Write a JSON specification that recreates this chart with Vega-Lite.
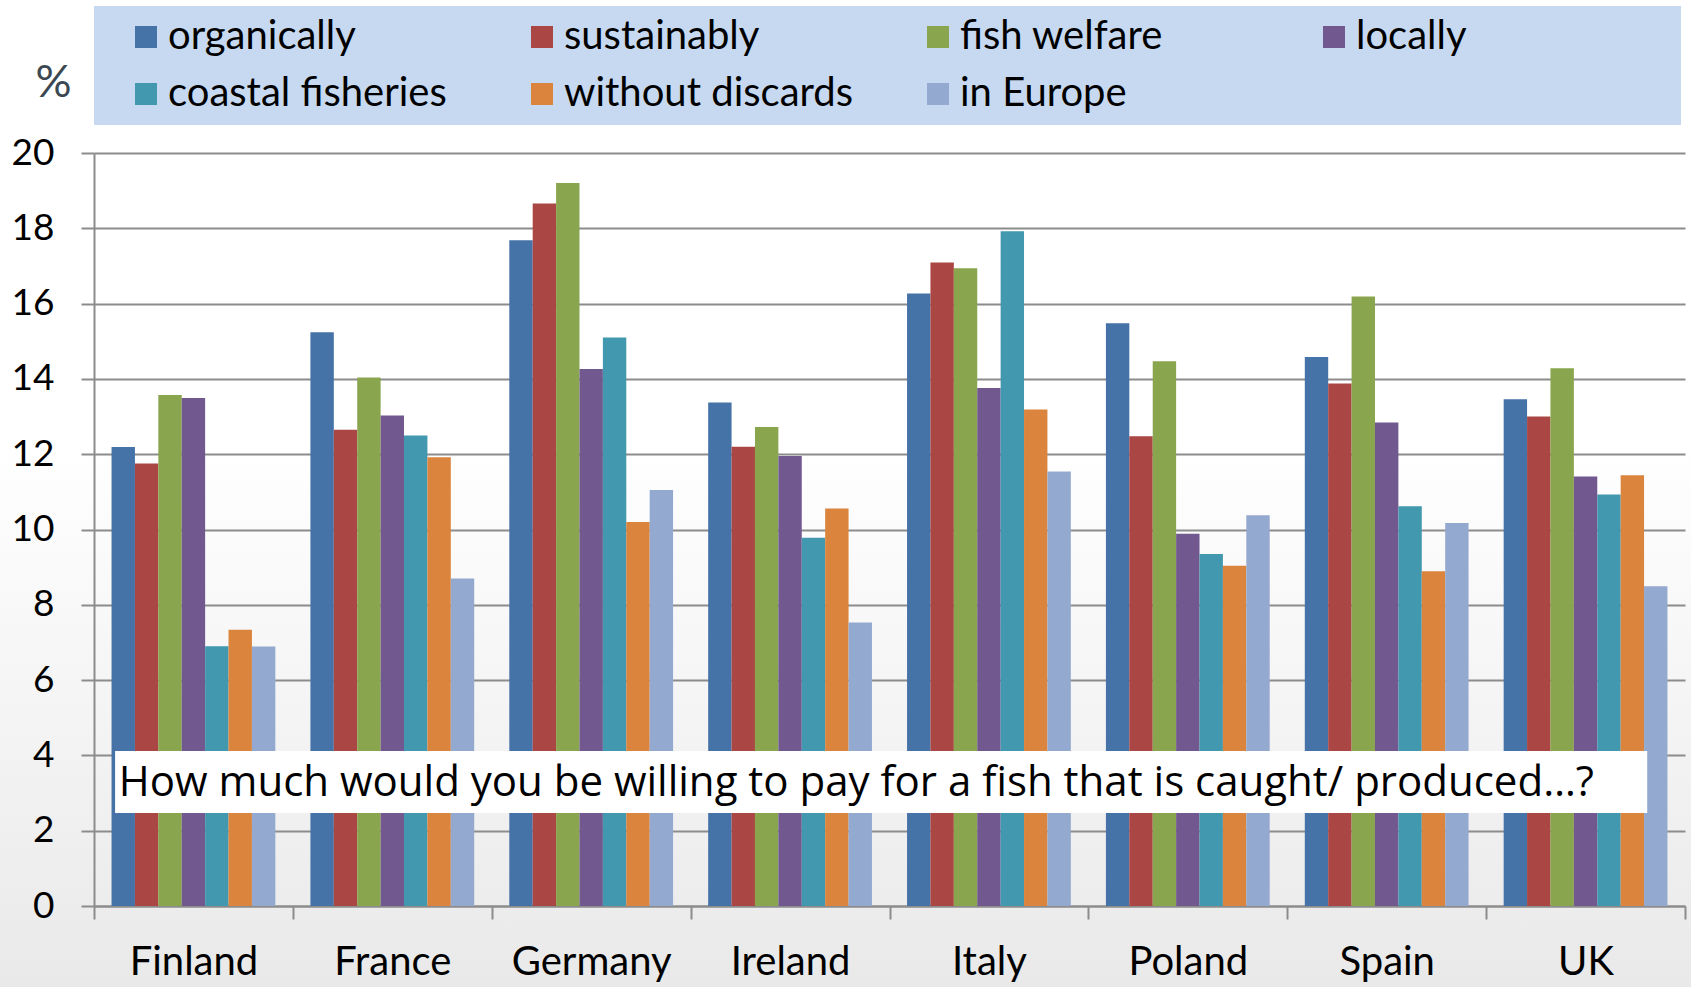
{
  "$schema": "https://vega.github.io/schema/vega-lite/v6.json",
  "width": 1691,
  "height": 987,
  "autosize": {"type": "none"},
  "padding": 0,
  "background": "white",
  "config": {
    "font": "Lato",
    "view": {
      "stroke": null,
      "fill": {
        "gradient": "linear",
        "x1": 0, "y1": 0, "x2": 0, "y2": 1,
        "stops": [
          {"offset": 0, "color": "#ffffff"},
          {"offset": 0.45, "color": "#ffffff"},
          {"offset": 1, "color": "#e9e9e9"}
        ]
      }
    }
  },
  "layer": [
    {
      "data": {
        "values": [
          {"country": "Finland", "series": "organically", "value": 12.19},
          {"country": "Finland", "series": "sustainably", "value": 11.75},
          {"country": "Finland", "series": "fish welfare", "value": 13.57},
          {"country": "Finland", "series": "locally", "value": 13.49},
          {"country": "Finland", "series": "coastal fisheries", "value": 6.9},
          {"country": "Finland", "series": "without discards", "value": 7.34},
          {"country": "Finland", "series": "in Europe", "value": 6.89},
          {"country": "France", "series": "organically", "value": 15.24},
          {"country": "France", "series": "sustainably", "value": 12.65},
          {"country": "France", "series": "fish welfare", "value": 14.04},
          {"country": "France", "series": "locally", "value": 13.03},
          {"country": "France", "series": "coastal fisheries", "value": 12.5},
          {"country": "France", "series": "without discards", "value": 11.92},
          {"country": "France", "series": "in Europe", "value": 8.7},
          {"country": "Germany", "series": "organically", "value": 17.68},
          {"country": "Germany", "series": "sustainably", "value": 18.66},
          {"country": "Germany", "series": "fish welfare", "value": 19.2},
          {"country": "Germany", "series": "locally", "value": 14.26},
          {"country": "Germany", "series": "coastal fisheries", "value": 15.1},
          {"country": "Germany", "series": "without discards", "value": 10.2},
          {"country": "Germany", "series": "in Europe", "value": 11.05},
          {"country": "Ireland", "series": "organically", "value": 13.37},
          {"country": "Ireland", "series": "sustainably", "value": 12.2},
          {"country": "Ireland", "series": "fish welfare", "value": 12.72},
          {"country": "Ireland", "series": "locally", "value": 11.95},
          {"country": "Ireland", "series": "coastal fisheries", "value": 9.78},
          {"country": "Ireland", "series": "without discards", "value": 10.56},
          {"country": "Ireland", "series": "in Europe", "value": 7.53},
          {"country": "Italy", "series": "organically", "value": 16.27},
          {"country": "Italy", "series": "sustainably", "value": 17.09},
          {"country": "Italy", "series": "fish welfare", "value": 16.94},
          {"country": "Italy", "series": "locally", "value": 13.76},
          {"country": "Italy", "series": "coastal fisheries", "value": 17.92},
          {"country": "Italy", "series": "without discards", "value": 13.19},
          {"country": "Italy", "series": "in Europe", "value": 11.54},
          {"country": "Poland", "series": "organically", "value": 15.48},
          {"country": "Poland", "series": "sustainably", "value": 12.48},
          {"country": "Poland", "series": "fish welfare", "value": 14.47},
          {"country": "Poland", "series": "locally", "value": 9.89},
          {"country": "Poland", "series": "coastal fisheries", "value": 9.35},
          {"country": "Poland", "series": "without discards", "value": 9.04},
          {"country": "Poland", "series": "in Europe", "value": 10.38},
          {"country": "Spain", "series": "organically", "value": 14.58},
          {"country": "Spain", "series": "sustainably", "value": 13.88},
          {"country": "Spain", "series": "fish welfare", "value": 16.19},
          {"country": "Spain", "series": "locally", "value": 12.84},
          {"country": "Spain", "series": "coastal fisheries", "value": 10.62},
          {"country": "Spain", "series": "without discards", "value": 8.89},
          {"country": "Spain", "series": "in Europe", "value": 10.17},
          {"country": "UK", "series": "organically", "value": 13.46},
          {"country": "UK", "series": "sustainably", "value": 13.0},
          {"country": "UK", "series": "fish welfare", "value": 14.28},
          {"country": "UK", "series": "locally", "value": 11.41},
          {"country": "UK", "series": "coastal fisheries", "value": 10.93},
          {"country": "UK", "series": "without discards", "value": 11.44},
          {"country": "UK", "series": "in Europe", "value": 8.49}
        ]
      },
      "mark": {"type": "bar"},
      "encoding": {
        "x": {
          "field": "country",
          "type": "nominal",
          "sort": null,
          "scale": {"range": [94, 1685], "paddingInner": 0, "paddingOuter": 0},
          "axis": {
            "orient": "bottom",
            "offset": -81,
            "title": null,
            "tickBand": "extent",
            "tickSize": 13,
            "tickColor": "#8c8c8c",
            "tickWidth": 2,
            "domainColor": "#8c8c8c",
            "domainWidth": 2,
            "labelAngle": 0,
            "labelFont": "Lato",
            "labelFontSize": 40,
            "labelColor": "#000000",
            "labelPadding": 23
          }
        },
        "xOffset": {
          "field": "series",
          "type": "nominal",
          "sort": ["organically", "sustainably", "fish welfare", "locally", "coastal fisheries", "without discards", "in Europe"],
          "scale": {"paddingInner": 0, "paddingOuter": 0.75}
        },
        "y": {
          "field": "value",
          "type": "quantitative",
          "scale": {"domain": [0, 20], "range": [906, 153], "nice": false, "zero": true},
          "axis": {
            "values": [0, 2, 4, 6, 8, 10, 12, 14, 16, 18, 20],
            "offset": -94,
            "grid": true,
            "gridColor": "#8c8c8c",
            "gridWidth": 2,
            "domainColor": "#8c8c8c",
            "domainWidth": 2,
            "tickColor": "#8c8c8c",
            "tickWidth": 2,
            "tickSize": 13,
            "labelFont": "Lato",
            "labelFontSize": 37,
            "labelColor": "#000000",
            "labelPadding": 27,
            "title": "%",
            "titleAngle": 0,
            "titleX": -41,
            "titleY": 82,
            "titleAlign": "center",
            "titleBaseline": "middle",
            "titleFont": "Lato",
            "titleFontSize": 45,
            "titleFontWeight": "normal",
            "titleColor": "#3b4852"
          }
        },
        "color": {
          "field": "series",
          "type": "nominal",
          "scale": {
            "domain": ["organically", "sustainably", "fish welfare", "locally", "coastal fisheries", "without discards", "in Europe"],
            "range": ["#4572a7", "#aa4643", "#89a54e", "#71588f", "#4198af", "#db843d", "#93a9cf"]
          },
          "legend": {
            "orient": "none",
            "legendX": 94,
            "legendY": 6,
            "direction": "horizontal",
            "columns": 4,
            "gridAlign": "all",
            "fillColor": "#c6d9f0",
            "strokeColor": null,
            "padding": 11,
            "title": " ",
            "titleOrient": "right",
            "titleFontSize": 1,
            "titlePadding": 203,
            "symbolType": "square",
            "symbolSize": 484,
            "symbolStrokeWidth": 0,
            "symbolOpacity": 1,
            "symbolOffset": 21,
            "labelFont": "Lato",
            "labelFontSize": 40,
            "labelColor": "#000000",
            "labelOffset": 2,
            "labelLimit": 0,
            "columnPadding": 43,
            "rowPadding": 17
          }
        }
      }
    },
    {
      "data": {"values": [{"note": "How much would you be willing to pay for a fish that is caught/ produced…?"}]},
      "mark": {"type": "rect", "fill": "#ffffff"},
      "encoding": {
        "x": {"datum": 0.106, "type": "quantitative", "scale": {"domain": [0, 8], "range": [94, 1685]}, "axis": null},
        "x2": {"datum": 7.81},
        "y": {"datum": 2.47, "type": "quantitative"},
        "y2": {"datum": 4.12}
      }
    },
    {
      "data": {"values": [{"note": "How much would you be willing to pay for a fish that is caught/ produced…?"}]},
      "mark": {"type": "text", "align": "left", "baseline": "middle", "font": "Open Sans", "fontSize": 42, "color": "#000000"},
      "encoding": {
        "x": {"datum": 0.125, "type": "quantitative", "scale": {"domain": [0, 8], "range": [94, 1685]}, "axis": null},
        "y": {"datum": 3.26, "type": "quantitative"},
        "text": {"field": "note", "type": "nominal"}
      }
    }
  ],
  "resolve": {"scale": {"x": "independent"}, "axis": {"x": "independent"}}
}
